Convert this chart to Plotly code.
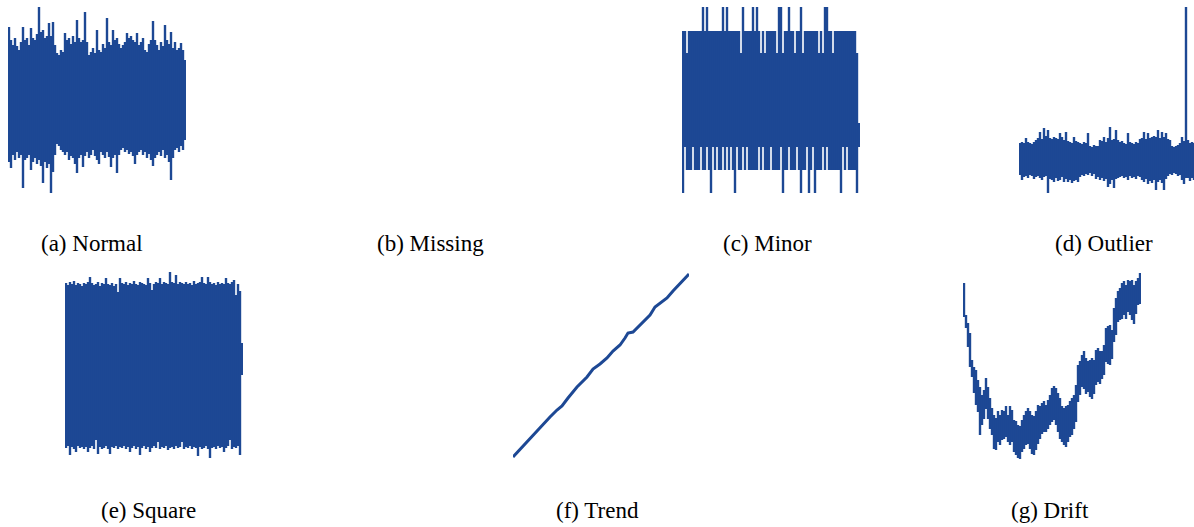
import plotly.graph_objects as go

W, H = 1194, 527
BLUE = "#1d4894"

# Each dense signal is stored as per-column extremes (max / min of the raw
# samples falling in one display column).

# (a) Normal
normal_hi = [73, 60, 55, 62, 54, 50, 58, 73, 60, 62,
             55, 72, 62, 60, 66, 93, 68, 70, 62, 64,
             77, 64, 78, 55, 47, 45, 50, 48, 67, 60,
             62, 56, 64, 58, 80, 62, 58, 60, 88, 58,
             45, 48, 52, 47, 70, 50, 48, 56, 52, 82,
             58, 55, 70, 60, 62, 56, 52, 55, 58, 67,
             62, 64, 60, 58, 67, 55, 58, 62, 50, 48,
             56, 60, 79, 60, 55, 50, 58, 54, 75, 60,
             56, 68, 52, 58, 50, 52, 57, 50, 40]
normal_lo = [-62, -68, -55, -60, -52, -58, -55, -88, -60, -58,
             -55, -70, -62, -58, -64, -60, -66, -83, -62, -68,
             -64, -93, -72, -55, -44, -46, -50, -52, -55, -52,
             -60, -56, -58, -64, -73, -58, -55, -67, -56, -52,
             -58, -55, -50, -56, -60, -64, -52, -55, -58, -52,
             -57, -67, -58, -55, -73, -55, -50, -48, -52, -50,
             -54, -52, -56, -64, -55, -52, -50, -55, -52, -58,
             -54, -60, -66, -58, -55, -52, -56, -50, -58, -55,
             -62, -80, -58, -50, -48, -52, -46, -50, -40]

# (c) Minor
minor_hi = [69, 69, 47, 69, 69, 69, 69, 69, 69, 69,
            93, 69, 93, 69, 69, 69, 69, 69, 69, 69,
            93, 69, 93, 69, 69, 69, 69, 69, 69, 47,
            93, 69, 69, 69, 69, 93, 69, 93, 69, 47,
            69, 47, 69, 69, 69, 69, 69, 47, 93, 93,
            47, 69, 69, 93, 69, 69, 47, 69, 69, 93,
            47, 69, 69, 69, 69, 69, 69, 69, 47, 69,
            47, 93, 93, 69, 69, 47, 69, 69, 69, 69,
            69, 69, 69, 69, 69, 69, 69, 47, -23]
minor_lo = [-93, -47, -70, -70, -70, -47, -70, -70, -70, -47,
            -70, -70, -47, -70, -93, -47, -70, -47, -70, -70,
            -47, -70, -47, -70, -47, -70, -93, -47, -70, -70,
            -47, -70, -47, -70, -70, -70, -70, -70, -47, -70,
            -47, -70, -70, -70, -47, -70, -70, -70, -70, -47,
            -93, -70, -70, -47, -70, -70, -70, -47, -70, -93,
            -70, -70, -47, -93, -70, -47, -93, -70, -70, -70,
            -47, -70, -47, -70, -70, -70, -70, -70, -70, -93,
            -47, -70, -47, -70, -70, -70, -70, -93, -47]

# (d) Outlier
outlier_hi = [15, 16, 15, 20, 16, 15, 14, 16,
              18, 20, 26, 19, 30, 22, 28, 20, 19, 21,
              20, 19, 25, 21, 18, 26,
              17, 16, 15, 21, 17, 16, 15, 14, 16, 15,
              25, 12, 11, 13, 12, 12,
              18, 17, 21, 16, 20, 31,
              18, 19, 28, 18, 16, 17,
              15, 14, 25, 16, 15, 14, 16, 15,
              19, 20, 26, 19, 25, 20, 21, 22,
              21, 28, 20, 26, 21, 25, 19, 18,
              12, 11, 12, 13, 15,
              21, 17, 151,
              18,
              15, 16, 15]
outlier_lo = [-17, -22, -19, -18, -20, -17, -18, -21,
              -19, -18, -20, -22, -19, -18, -35, -21, -22, -24,
              -20, -23, -22, -19, -24, -21,
              -24, -22, -25, -23, -22, -24, -19, -17, -18, -16,
              -17, -15, -18, -16, -21, -19,
              -22, -20, -23, -21, -29, -26,
              -22, -30, -21, -20, -19, -18,
              -20, -19, -22, -18, -20, -19, -21, -18,
              -19, -22, -24, -21, -26, -23, -25, -22,
              -32, -24, -22, -25, -32, -21, -18, -16,
              -17, -15, -16, -18, -17,
              -22, -26, -20,
              -20,
              -23, -20, -22]

# (e) Square
square_hi = [83, 81, 84, 82, 85, 81, 83, 82, 80, 83,
             82, 84, 89, 83, 81, 82, 84, 80, 83, 82,
             88, 82, 81, 83, 80, 82, 74, 88, 83, 82,
             84, 81, 83, 82, 85, 82, 81, 84, 83, 82,
             81, 88, 83, 76, 82, 84, 83, 88, 82, 84,
             83, 82, 94, 84, 83, 91, 82, 84, 83, 82,
             84, 82, 83, 81, 85, 82, 83, 84, 89, 83,
             82, 89, 84, 82, 83, 81, 84, 82, 83, 82,
             88, 83, 82, 84, 86, 71, 82, 75, 23]
square_lo = [-82, -80, -89, -81, -83, -86, -80, -82, -81, -83,
             -81, -86, -82, -80, -83, -74, -88, -81, -83, -82,
             -80, -83, -88, -81, -82, -80, -83, -81, -82, -80,
             -83, -81, -86, -82, -80, -83, -81, -89, -82, -80,
             -83, -81, -86, -82, -80, -82, -76, -83, -81, -82,
             -80, -84, -82, -81, -83, -80, -82, -81, -76, -83,
             -81, -82, -80, -83, -81, -82, -90, -81, -83, -82,
             -80, -83, -92, -82, -81, -83, -80, -82, -81, -86,
             -82, -80, -74, -83, -81, -82, -80, -89, -9]

# (f) Trend: time stamps and values along the rising line
trend_t = [0, 10, 20, 30, 37, 44, 49, 55, 64, 74, 80, 87, 94, 100,
           107, 112, 115, 120, 124, 130, 137, 142, 147, 154, 160, 169, 176]
trend_v = [8, 19, 29, 41, 48, 55, 59, 67, 78, 88, 96, 101, 107, 114,
           120, 127, 132, 133, 137, 143, 150, 158, 162, 167, 174, 183, 191]

# (g) Drift
drift_hi = [182, 150, 142, 132, 105, 98, 95, 85, 78, 70,
            75, 87, 78, 67, 57, 50, 47, 54, 50, 55,
            54, 59, 50, 59, 55, 45, 44, 40, 39, 45,
            50, 54, 57, 54, 50, 49, 54, 60, 59, 62,
            64, 60, 65, 70, 77, 79, 77, 72, 67, 59,
            57, 59, 60, 64, 67, 70, 80, 100, 104, 110,
            114, 107, 104, 105, 107, 105, 115, 117, 114, 114,
            120, 137, 139, 140, 135, 157, 167, 174, 177, 182,
            184, 180, 185, 184, 185, 180, 184, 187, 192]
drift_lo = [148, 137, 118, 98, 88, 72, 60, 53, 30, 40,
            46, 56, 46, 36, 30, 16, 15, 23, 20, 25,
            26, 28, 23, 20, 23, 13, 10, 7, 6, 13,
            16, 20, 21, 16, 11, 10, 15, 21, 26, 31,
            33, 33, 36, 40, 43, 45, 40, 33, 26, 23,
            20, 18, 23, 28, 30, 36, 43, 63, 70, 78,
            76, 71, 73, 68, 66, 71, 80, 83, 81, 86,
            90, 103, 101, 100, 106, 123, 130, 143, 145, 146,
            150, 146, 153, 150, 145, 141, 151, 160, 161]

labels = ["(a) Normal", "(b) Missing", "(c) Minor", "(d) Outlier",
          "(e) Square", "(f) Trend", "(g) Drift"]


def column_path(hi, lo):
    xs, ys = [], []
    for i, (h, l) in enumerate(zip(hi, lo)):
        xs += [i, i, None]
        ys += [l, h, None]
    return xs, ys


COL_PX = 2  # width of one display column in pixels
ROW_H = 200

# left edge (px), top edge (px), y range for each column-drawn panel
panels = [
    (normal_hi, normal_lo, 8, 0, (-100, 100)),
    (minor_hi, minor_lo, 682, 0, (-100, 100)),
    (outlier_hi, outlier_lo, 1019, 0, (-42, 158)),
    (square_hi, square_lo, 65, 265, (-99, 101)),
    (drift_hi, drift_lo, 963, 265, (0, 200)),
]

fig = go.Figure()
layout = {}
hidden = dict(visible=False, showgrid=False, zeroline=False, fixedrange=True)

k = 0
for hi, lo, left, top, yr in panels:
    k += 1
    right = min(left + COL_PX * len(hi), W)
    xs, ys = column_path(hi, lo)
    sfx = "" if k == 1 else str(k)
    fig.add_trace(go.Scatter(
        x=xs, y=ys, mode="lines", xaxis="x" + sfx, yaxis="y" + sfx,
        line=dict(color=BLUE, width=2.4), hoverinfo="skip"))
    layout["xaxis" + sfx] = dict(
        domain=[left / W, right / W],
        range=[-0.5, (right - left) / COL_PX - 0.5],
        anchor="y" + sfx, **hidden)
    layout["yaxis" + sfx] = dict(
        domain=[1 - (top + ROW_H) / H, 1 - top / H],
        range=list(yr), anchor="x" + sfx, **hidden)

# trend panel drawn as a plain line
k += 1
sfx = str(k)
fig.add_trace(go.Scatter(
    x=trend_t, y=trend_v, mode="lines", xaxis="x" + sfx, yaxis="y" + sfx,
    line=dict(color=BLUE, width=3), hoverinfo="skip"))
layout["xaxis" + sfx] = dict(domain=[513 / W, 689 / W], range=[0, 176],
                             anchor="y" + sfx, **hidden)
layout["yaxis" + sfx] = dict(domain=[1 - 465 / H, 1 - 265 / H], range=[0, 200],
                             anchor="x" + sfx, **hidden)

# captions under each panel
label_pos = [(92, 243), (430, 243), (767, 243), (1104, 243),
             (148, 510), (597, 510), (1050, 510)]
SERIF = "Liberation Serif"
annotations = [
    dict(text=t, x=px / W, y=1 - py / H, xref="paper", yref="paper",
         xanchor="center", yanchor="middle", showarrow=False,
         font=dict(family=SERIF, size=23, color="black"))
    for t, (px, py) in zip(labels, label_pos)
]

fig.update_layout(
    width=W, height=H, margin=dict(l=0, r=0, t=0, b=0),
    paper_bgcolor="white", plot_bgcolor="white", showlegend=False,
    font=dict(family=SERIF),
    annotations=annotations, **layout)

fig.write_html("out.html")
